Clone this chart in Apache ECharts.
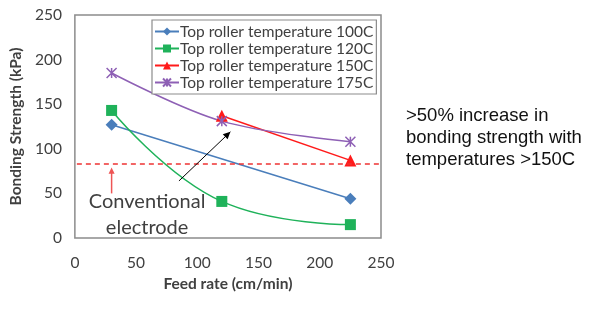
<!DOCTYPE html>
<html>
<head>
<meta charset="utf-8">
<script src="https://cdn.jsdelivr.net/npm/echarts@6/dist/echarts.min.js"></script>
<style>
  html, body { margin: 0; padding: 0; background: #fff; }
  #chart { width: 591px; height: 331px; }
</style>
</head>
<body>
<div id="chart"></div>
<script>
// Feed rate (cm/min) vs. bonding strength (kPa) for four top-roller temperatures
const seriesNames = [
  'Top roller temperature 100C',
  'Top roller temperature 120C',
  'Top roller temperature 150C',
  'Top roller temperature 175C'
];
const feed100 = [30, 225];
const strength100 = [127, 44];
const feed120 = [30, 120, 225];
const strength120 = [143, 41, 15];
const feed150 = [120, 225];
const strength150 = [137, 87];
const feed175 = [30, 120, 225];
const strength175 = [185, 131, 108];
const conventional = 83;     // conventional electrode reference level
const xTicks = [0, 50, 100, 150, 200, 250];
const yTicks = [0, 50, 100, 150, 200, 250];

const colors = ['#4a7ebb', '#1fb25a', '#ff1a1a', '#8e60b5'];
const starPath = 'path://M0,0L10,10M10,0L0,10M5,0L5,10';

const pair = (xs, ys) => xs.map((x, i) => [x, ys[i]]);

const chart = echarts.init(document.getElementById('chart'), null, { renderer: 'canvas' });

const axisText = { color: '#404040', fontSize: 15.5, fontFamily: 'Lato' };
const nameText = { color: '#404040', fontSize: 15.5, fontWeight: 'bold', fontFamily: 'Lato' };

const option = {
  animation: false,
  grid: { left: 74, top: 15, width: 307, height: 223, show: true, borderColor: '#8c8c8c', borderWidth: 1.5 },
  xAxis: {
    type: 'value', min: xTicks[0], max: xTicks[xTicks.length - 1], interval: 50,
    name: 'Feed rate (cm/min)', nameLocation: 'middle', nameGap: 38,
    nameTextStyle: nameText,
    axisLine: { show: false }, axisTick: { show: false }, splitLine: { show: false },
    axisLabel: Object.assign({ margin: 17 }, axisText)
  },
  yAxis: {
    type: 'value', min: yTicks[0], max: yTicks[yTicks.length - 1], interval: 50,
    name: 'Bonding Strength (kPa)', nameLocation: 'middle', nameGap: 46, nameRotate: 90,
    nameTextStyle: nameText,
    axisLine: { show: false }, axisTick: { show: false }, splitLine: { show: false },
    axisLabel: Object.assign({ margin: 13 }, axisText)
  },
  legend: {
    orient: 'vertical', left: 152, top: 20,
    padding: [3, 3, 3, 2], itemGap: 0, itemWidth: 24, itemHeight: 10,
    borderColor: '#8c8c8c', borderWidth: 1.2, backgroundColor: '#fff',
    textStyle: { color: '#404040', fontSize: 15.5, lineHeight: 17, fontFamily: 'Lato', padding: [0, 0, 0, -4] },
    data: seriesNames
  },
  series: [
    { name: seriesNames[0], type: 'line', data: pair(feed100, strength100), color: colors[0],
      symbol: 'diamond', symbolSize: 12, lineStyle: { width: 1.5 } },
    { name: seriesNames[1], type: 'line', data: pair(feed120, strength120), color: colors[1],
      smooth: 0.45, symbol: 'rect', symbolSize: 11, lineStyle: { width: 1.5 } },
    { name: seriesNames[2], type: 'line', data: pair(feed150, strength150), color: colors[2],
      symbol: 'triangle', symbolSize: 12, lineStyle: { width: 1.5 } },
    { name: seriesNames[3], type: 'line', data: pair(feed175, strength175), color: colors[3],
      smooth: 0.35, symbol: starPath, symbolSize: 10,
      lineStyle: { width: 1.5, color: colors[3] },
      itemStyle: { color: colors[3], borderColor: colors[3], borderWidth: 1.5 } }
  ]
};
chart.setOption(option);

// Annotations placed through the axis scales
const px = (x, y) => chart.convertToPixel({ gridIndex: 0 }, [x, y]);
const lvlL = px(xTicks[0], conventional);
const lvlR = px(xTicks[xTicks.length - 1], conventional);
const arrowTop = px(30, 79);
const arrowBottom = px(30, 50);
const blackFrom = px(85, 64);
const blackTo = px(127, 119);
const labelPos = px(59, 26);

function arrowHead(tip, from, size, color) {
  const ang = Math.atan2(tip[1] - from[1], tip[0] - from[0]);
  const a1 = ang + Math.PI - 0.45, a2 = ang + Math.PI + 0.45;
  return {
    type: 'polygon', z: 20,
    shape: { points: [tip, [tip[0] + size * Math.cos(a1), tip[1] + size * Math.sin(a1)], [tip[0] + size * Math.cos(a2), tip[1] + size * Math.sin(a2)]] },
    style: { fill: color }
  };
}

chart.setOption({
  graphic: [
    { type: 'line', z: 5, shape: { x1: lvlL[0] + 2, y1: lvlL[1], x2: lvlR[0] - 1, y2: lvlR[1] },
      style: { stroke: '#ee3333', lineWidth: 1.5, lineDash: [5, 4] } },
    { type: 'line', z: 20, shape: { x1: arrowBottom[0], y1: arrowBottom[1], x2: arrowTop[0], y2: arrowTop[1] + 4 },
      style: { stroke: '#ee5555', lineWidth: 1.5 } },
    arrowHead(arrowTop, arrowBottom, 7, '#ee5555'),
    { type: 'line', z: 20, shape: { x1: blackFrom[0], y1: blackFrom[1], x2: blackTo[0], y2: blackTo[1] },
      style: { stroke: '#000', lineWidth: 1 } },
    arrowHead(blackTo, blackFrom, 8, '#000'),
    { type: 'text', z: 20, x: labelPos[0], y: labelPos[1], style: {
        text: 'Conventional\nelectrode', align: 'center', verticalAlign: 'middle', lineHeight: 26,
        fill: '#404040', font: '20px Lato' } },
    { type: 'text', z: 20, x: 406, y: 105, style: {
        text: '>50% increase in\nbonding strength with\ntemperatures >150C', lineHeight: 22,
        fill: '#111', font: '18.5px "Liberation Sans"' } }
  ]
});
</script>
</body>
</html>
